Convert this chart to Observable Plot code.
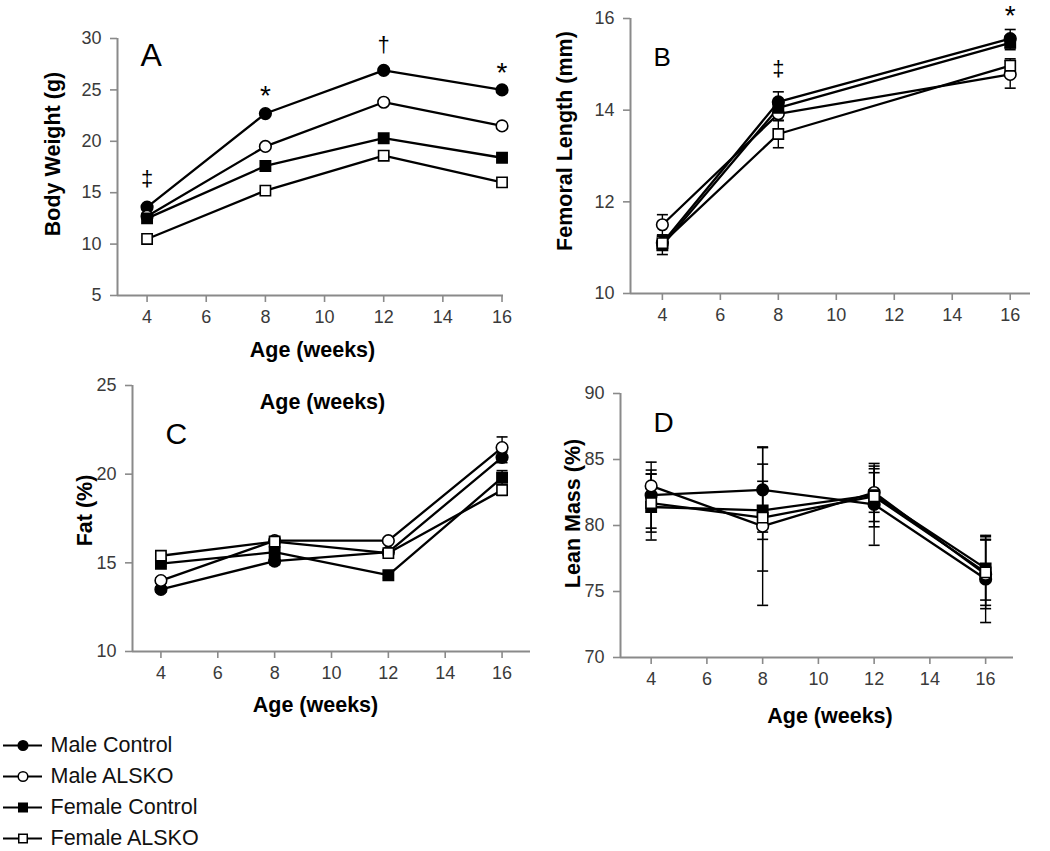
<!DOCTYPE html>
<html>
<head>
<meta charset="utf-8">
<script src="https://cdn.jsdelivr.net/npm/d3@7"></script>
<script src="https://cdn.jsdelivr.net/npm/@observablehq/plot@0.6"></script>
<style>
  html, body { margin: 0; padding: 0; background: #fff; }
  #fig { position: relative; width: 1050px; height: 851px; overflow: hidden; background: #fff; }
  .panel { position: absolute; }
  .panel svg { overflow: visible; }
</style>
</head>
<body>
<div id="fig"></div>
<script>
// ---------------- DATA ----------------
const ages = [4, 8, 12, 16];
const femurAges = [4, 8, 16];
const xTicks = [4, 6, 8, 10, 12, 14, 16];
const groups = ["Male Control", "Male ALSKO", "Female Control", "Female ALSKO"];
const groupShapes = ["circle", "circle", "square", "square"];
const groupFills = ["black", "white", "black", "white"];

// A: body weight (g), rows follow `groups`
const bodyWeight = [
  [13.6, 22.7, 26.9, 25.0],
  [12.7, 19.5, 23.8, 21.5],
  [12.5, 17.6, 20.3, 18.4],
  [10.5, 15.2, 18.6, 16.0]
];
const bodyWeightTicks = [5, 10, 15, 20, 25, 30];

// B: femoral length (mm)
const femoralLength = [
  [11.10, 14.18, 15.56],
  [11.50, 13.92, 14.78],
  [11.05, 14.05, 15.47],
  [11.10, 13.48, 14.97]
];
const femoralErr = [
  [0.15, 0.22, 0.20],
  [0.22, 0.15, 0.30],
  [0.20, 0.15, 0.15],
  [0.15, 0.30, 0.15]
];
const femoralTicks = [10, 12, 14, 16];

// C: fat (%)
const fatPct = [
  [13.5, 15.1, 15.6, 20.95],
  [14.0, 16.25, 16.25, 21.5],
  [14.95, 15.6, 14.3, 19.8],
  [15.4, 16.2, 15.55, 19.1]
];
const fatErr = [
  [0.15, 0.2, 0.15, 0.3],
  [0.15, 0.2, 0.15, 0.6],
  [0.15, 0.25, 0.15, 0.4],
  [0.15, 0.2, 0.15, 0.3]
];
const fatTicks = [10, 15, 20, 25];

// D: lean mass (%)
const leanPct = [
  [82.3, 82.7, 81.6, 75.95],
  [83.0, 79.95, 82.5, 76.3],
  [81.4, 81.15, 82.3, 76.75],
  [81.7, 80.6, 82.2, 76.45]
];
const leanErr = [
  [2.5, 3.2, 3.1, 3.3],
  [1.2, 6.0, 1.5, 2.6],
  [2.5, 2.2, 2.0, 2.4],
  [2.2, 4.05, 2.3, 2.5]
];
const leanTicks = [70, 75, 80, 85, 90];

// significance marks
const annotAAges = [4, 8, 12, 16];
const annotAMarks = ["‡", "*", "†", "*"];
const annotAY = [16.3, 24.45, 29.4, 26.65];
const annotBAges = [8, 16];
const annotBMarks = ["‡", "*"];
const annotBY = [14.89, 16.06];

// ---------------- HELPERS ----------------
const FONT = '"Liberation Sans", Arial, Helvetica, sans-serif';
const AXIS = "#8a8a8a";
const TICKTXT = "#3a3a3a";

function toRows(xs, values, errs) {
  return groups.flatMap((g, gi) => xs.map((x, i) => ({
    group: g, age: x, value: values[gi][i], err: errs ? errs[gi][i] : 0
  })));
}

const capSymbol = {
  draw(ctx, size) {
    const r = Math.sqrt(size / Math.PI);
    ctx.moveTo(-r, 0);
    ctx.lineTo(r, 0);
  }
};

function panel(cfg) {
  const rows = cfg.rows;
  const marks = [
    Plot.ruleX([cfg.xDomain[0]], {stroke: AXIS, strokeWidth: 2}),
    Plot.ruleY([cfg.yDomain[0]], {stroke: AXIS, strokeWidth: 2}),
    Plot.axisY({ticks: cfg.yTicks, tickSize: 7, tickPadding: 9, stroke: AXIS, strokeWidth: 1.6, fill: TICKTXT, label: null, tickFormat: d => String(d)}),
    Plot.axisX({ticks: xTicks, tickSize: 7, tickPadding: 8, stroke: AXIS, strokeWidth: 1.6, fill: TICKTXT, label: null, tickFormat: d => String(d)})
  ];
  if (cfg.hasErr) {
    marks.push(
      Plot.ruleX(rows, {x: "age", y1: d => d.value - d.err, y2: d => d.value + d.err, stroke: "black", strokeWidth: 1.4}),
      Plot.dot(rows, {x: "age", y: d => d.value - d.err, symbol: capSymbol, r: 5.5, stroke: "black", fill: "none", strokeWidth: 1.6}),
      Plot.dot(rows, {x: "age", y: d => d.value + d.err, symbol: capSymbol, r: 5.5, stroke: "black", fill: "none", strokeWidth: 1.6})
    );
  }
  marks.push(
    Plot.line(rows, {x: "age", y: "value", z: "group", stroke: "black", strokeWidth: 2.3}),
    Plot.dot(rows, {x: "age", y: "value", symbol: "group", fill: "group", stroke: "black", strokeWidth: 1.6, r: 5.8})
  );
  if (cfg.notes) {
    marks.push(Plot.text(cfg.notes, {x: "age", y: "y", text: "mark", fontSize: d => d.mark === "*" ? 28 : 22, fill: "black", textAnchor: "middle", lineAnchor: "middle"}));
  }
  // panel letter
  marks.push(Plot.text([cfg.letter], {frameAnchor: "top-left", dx: cfg.letterDx, dy: cfg.letterDy, fontSize: cfg.letterSize, fill: "black", textAnchor: "start", lineAnchor: "top", fontWeight: "normal"}));
  // y label
  marks.push(Plot.text([cfg.yLabel], {frameAnchor: "left", dx: cfg.yLabelDx, dy: cfg.yLabelDy, rotate: -90, fontSize: 21.5, fontWeight: "bold", fill: "black", textAnchor: "middle", lineAnchor: "middle"}));
  // x labels
  for (const xl of cfg.xLabels || []) {
    marks.push(Plot.text([xl.text], {frameAnchor: xl.anchor, dx: xl.dx, dy: xl.dy, fontSize: 21.5, fontWeight: "bold", fill: "black", textAnchor: "middle", lineAnchor: "middle"}));
  }
  const svg = Plot.plot({
    width: cfg.w, height: cfg.h,
    marginLeft: cfg.ml, marginRight: cfg.mr, marginTop: cfg.mt, marginBottom: cfg.mb,
    x: {domain: cfg.xDomain},
    y: {domain: cfg.yDomain},
    symbol: {domain: groups, range: groupShapes},
    color: {domain: groups, range: groupFills},
    style: {fontFamily: FONT, fontSize: "18px", color: "black", background: "transparent", overflow: "visible"},
    marks
  });
  const div = document.createElement("div");
  div.className = "panel";
  div.style.left = cfg.left + "px";
  div.style.top = cfg.top + "px";
  div.appendChild(svg);
  document.getElementById("fig").appendChild(div);
}

const AGE_LABEL = "Age (weeks)";

// Panel A
panel({
  rows: toRows(ages, bodyWeight), hasErr: false,
  left: 0, top: 0, w: 525, h: 370, ml: 117, mr: 22, mt: 38, mb: 75,
  xDomain: [3, 16.05], yDomain: [5, 30], yTicks: bodyWeightTicks,
  letter: "A", letterDx: 23, letterDy: 5, letterSize: 32,
  yLabel: "Body Weight (g)", yLabelDx: -64, yLabelDy: -13,
  xLabels: [{text: AGE_LABEL, anchor: "bottom", dx: 2, dy: 55}],
  notes: annotAAges.map((a, i) => ({age: a, mark: annotAMarks[i], y: annotAY[i]}))
});

// Panel B
panel({
  rows: toRows(femurAges, femoralLength, femoralErr), hasErr: true,
  left: 520, top: 0, w: 530, h: 370, ml: 110, mr: 20, mt: 18, mb: 77,
  xDomain: [2.9, 16.7], yDomain: [10, 16], yTicks: femoralTicks,
  letter: "B", letterDx: 23, letterDy: 29, letterSize: 26,
  yLabel: "Femoral Length (mm)", yLabelDx: -65, yLabelDy: -15,
  xLabels: [],
  notes: annotBAges.map((a, i) => ({age: a, mark: annotBMarks[i], y: annotBY[i]}))
});

// Panel C (also carries the displaced "Age (weeks)" label at its top)
panel({
  rows: toRows(ages, fatPct, fatErr), hasErr: true,
  left: 0, top: 370, w: 540, h: 330, ml: 132, mr: 10, mt: 15, mb: 49,
  xDomain: [3, 17], yDomain: [10, 25], yTicks: fatTicks,
  letter: "C", letterDx: 33, letterDy: 37, letterSize: 30,
  yLabel: "Fat (%)", yLabelDx: -47, yLabelDy: -8,
  xLabels: [
    {text: AGE_LABEL, anchor: "top", dx: -9, dy: 17},
    {text: AGE_LABEL, anchor: "bottom", dx: -16, dy: 54}
  ]
});

// Panel D
panel({
  rows: toRows(ages, leanPct, leanErr), hasErr: true,
  left: 520, top: 370, w: 530, h: 330, ml: 100, mr: 37, mt: 23, mb: 43,
  xDomain: [2.9, 17], yDomain: [70, 90], yTicks: leanTicks,
  letter: "D", letterDx: 33, letterDy: 19, letterSize: 28,
  yLabel: "Lean Mass (%)", yLabelDx: -47, yLabelDy: -12,
  xLabels: [{text: AGE_LABEL, anchor: "bottom", dx: 13, dy: 59}]
});

// Legend
{
  const legend = Plot.plot({
    width: 260, height: 126,
    marginLeft: 3, marginRight: 218, marginTop: 20, marginBottom: 13,
    y: {type: "point", domain: groups, padding: 0, axis: null},
    x: {axis: null},
    symbol: {domain: groups, range: groupShapes},
    color: {domain: groups, range: groupFills},
    style: {fontFamily: FONT, fontSize: "21px", color: "black", background: "transparent", overflow: "visible"},
    marks: [
      Plot.ruleY(groups, {y: d => d, stroke: "black", strokeWidth: 2.2}),
      Plot.dot(groups, {y: d => d, symbol: d => d, fill: d => d, stroke: "black", strokeWidth: 1.5, r: 4.8}),
      Plot.text(groups, {y: d => d, text: d => d, frameAnchor: "left", dx: 47, textAnchor: "start", lineAnchor: "middle", fontSize: 21.5, fill: "#111"})
    ]
  });
  const div = document.createElement("div");
  div.className = "panel";
  div.style.left = "0px";
  div.style.top = "725px";
  div.appendChild(legend);
  document.getElementById("fig").appendChild(div);
}
</script>
</body>
</html>
